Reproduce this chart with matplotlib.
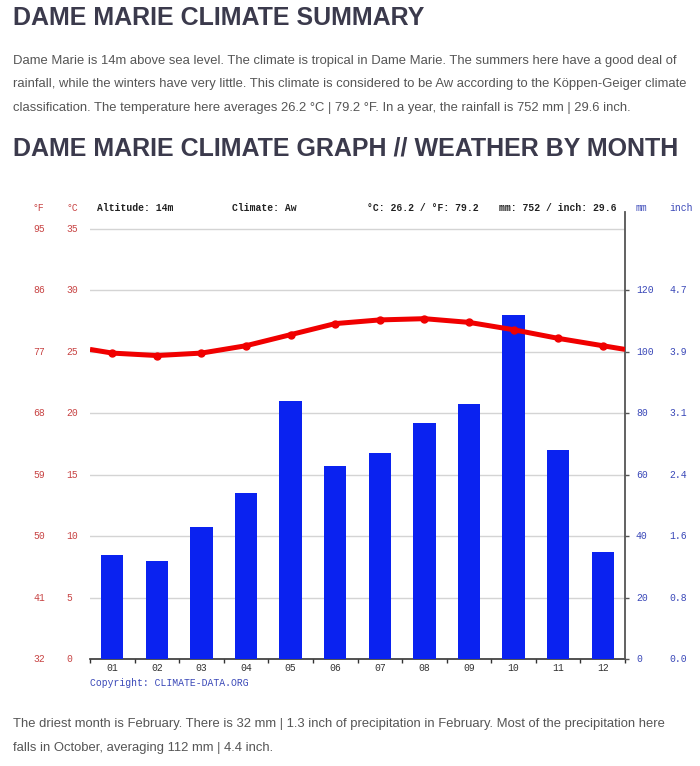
import numpy as np
import matplotlib
matplotlib.use('Agg')
import matplotlib.pyplot as plt
import matplotlib.transforms as mtransforms

# --- data ---
months = ['01', '02', '03', '04', '05', '06', '07', '08', '09', '10', '11', '12']
precip_mm = [34, 32, 43, 54, 84, 63, 67, 77, 83, 112, 68, 35]
temp_c = [24.9, 24.7, 24.9, 25.5, 26.4, 27.3, 27.6, 27.7, 27.4, 26.8, 26.1, 25.5]
c_ticks = [0, 5, 10, 15, 20, 25, 30, 35]
mm_ticks = [0, 20, 40, 60, 80, 100, 120]

title1 = 'DAME MARIE CLIMATE SUMMARY'
title2 = 'DAME MARIE CLIMATE GRAPH // WEATHER BY MONTH'
para1 = ['Dame Marie is 14m above sea level. The climate is tropical in Dame Marie. The summers here have a good deal of',
         'rainfall, while the winters have very little. This climate is considered to be Aw according to the Köppen-Geiger climate',
         'classification. The temperature here averages 26.2 °C | 79.2 °F. In a year, the rainfall is 752 mm | 29.6 inch.']
para2 = ['The driest month is February. There is 32 mm | 1.3 inch of precipitation in February. Most of the precipitation here',
         'falls in October, averaging 112 mm | 4.4 inch.']
header = [('Altitude: 14m', 97), ('Climate: Aw', 232),
          ('°C: 26.2 / °F: 79.2', 367), ('mm: 752 / inch: 29.6', 499)]

W, H = 700, 766
RED = '#c84444'
BLUE = '#3a48b8'
MONO = 'Liberation Mono'
SANS = 'Liberation Sans'

fig = plt.figure(figsize=(W / 100, H / 100), dpi=100)
fig.patch.set_facecolor('white')

def px(x, y):
    return x / W, 1 - y / H

# page text
fig.text(*px(13, 18), title1, fontsize=18, fontweight='bold', color='#3b3a4c',
         family=SANS, va='center', ha='left')
fig.text(*px(13, 148), title2, fontsize=18, fontweight='bold', color='#3b3a4c',
         family=SANS, va='center', ha='left')
for i, line in enumerate(para1):
    fig.text(*px(13, 61 + i * 23.5), line, fontsize=9.35, color='#555555',
             family=SANS, va='center', ha='left')
for i, line in enumerate(para2):
    fig.text(*px(13, 724 + i * 24), line, fontsize=9.35, color='#555555',
             family=SANS, va='center', ha='left')

# chart area
left, right, bottom, top = 90, 625, 659, 212
ax = fig.add_axes([left / W, 1 - bottom / H, (right - left) / W, (bottom - top) / H])
c_top = 35 * (bottom - top) / (bottom - 229)
ax.set_xlim(0, 12)
ax.set_ylim(0, c_top)

ax2 = ax.twinx()
ax2.set_ylim(0, c_top * 4)

x = np.arange(12) + 0.5
ax2.bar(x, precip_mm, width=0.5, color='#0a22f0', zorder=2)

# temperature line, wrapped to the plot edges
edge = (temp_c[0] + temp_c[-1]) / 2
tx = np.concatenate([[0], x, [12]])
ty = np.concatenate([[edge], temp_c, [edge]])
ax2.plot(tx, np.array(ty) * 4, color='#f00000', lw=3.6, solid_capstyle='butt', zorder=3)
ax2.plot(x, np.array(temp_c) * 4, 'o', color='#f00000', ms=5, zorder=3)

# gridlines
for c in c_ticks[1:]:
    ax.axhline(c, color='#d4d4d4', lw=1.0, zorder=0)

for a in (ax, ax2):
    for s in ('top', 'left', 'right', 'bottom'):
        a.spines[s].set_visible(False)
    a.patch.set_visible(False)
ax2.spines['right'].set_visible(True)
ax2.spines['right'].set_color('#555555')
ax2.spines['right'].set_linewidth(1.3)
ax.spines['bottom'].set_visible(True)
ax.spines['bottom'].set_color('#333333')
ax.spines['bottom'].set_linewidth(1.2)

# bottom ticks at month boundaries, labels at centres
ax.set_xticks(np.arange(13))
ax.set_xticklabels([])
ax.set_xticks(x, minor=True)
ax.set_xticklabels(months, minor=True, fontsize=7, family=MONO, color='#333333')
ax.tick_params(axis='x', which='major', length=3, width=1, color='#333333', direction='out')
ax.tick_params(axis='x', which='minor', length=0, pad=3)

# left: no ticks, labels drawn as text
ax.set_yticks([])
ax2.set_yticks(mm_ticks)
ax2.set_yticklabels([])
ax2.tick_params(axis='y', length=3, width=1, color='#555555', direction='out')

tr_l = mtransforms.blended_transform_factory(fig.transFigure, ax.transData)
for c in c_ticks:
    f = round(32 + c * 9 / 5)
    fig.text(33 / W, c, str(f), transform=tr_l, fontsize=7, family=MONO, color=RED,
             va='center', ha='left')
    fig.text(66 / W, c, str(c), transform=tr_l, fontsize=7, family=MONO, color=RED,
             va='center', ha='left')

tr_r = mtransforms.blended_transform_factory(fig.transFigure, ax2.transData)
for m in mm_ticks:
    fig.text(636 / W, m, str(m), transform=tr_r, fontsize=7, family=MONO, color=BLUE,
             va='center', ha='left')
    fig.text(669 / W, m, f'{m / 25.4:.1f}', transform=tr_r, fontsize=7, family=MONO,
             color=BLUE, va='center', ha='left')

# header row
hy = 208
fig.text(*px(33, hy), '°F', fontsize=7, family=MONO, color=RED, va='center', ha='left')
fig.text(*px(66, hy), '°C', fontsize=7, family=MONO, color=RED, va='center', ha='left')
for label, hx in header:
    fig.text(*px(hx, hy), label, fontsize=7, family=MONO, color='#222222',
             va='center', ha='left', fontweight='bold')
fig.text(*px(636, hy), 'mm', fontsize=7, family=MONO, color=BLUE, va='center', ha='left')
fig.text(*px(669, hy), 'inch', fontsize=7, family=MONO, color=BLUE, va='center', ha='left')

fig.text(*px(90, 683), 'Copyright: CLIMATE-DATA.ORG', fontsize=7, family=MONO,
         color=BLUE, va='center', ha='left')

fig.savefig('out.png', dpi=100, facecolor='white')
